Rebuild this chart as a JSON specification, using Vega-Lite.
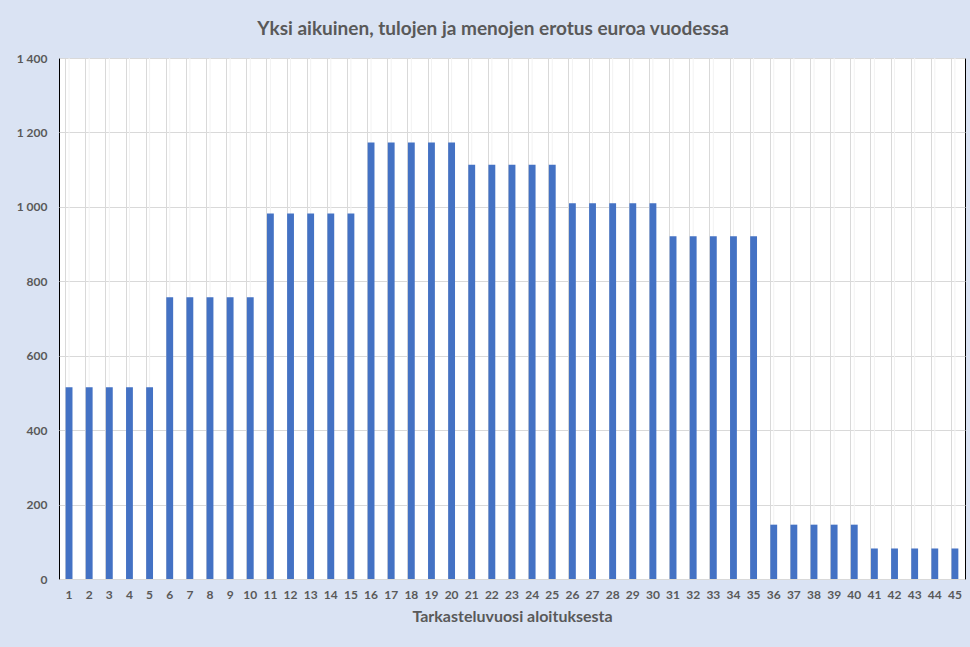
{
  "$schema": "https://vega.github.io/schema/vega-lite/v6.json",
  "autosize": {"type": "none"},
  "width": 906,
  "height": 521,
  "padding": {"left": 59, "top": 58, "right": 5, "bottom": 68},
  "background": "#dae3f3",
  "title": {
    "text": "Yksi aikuinen, tulojen ja menojen erotus euroa vuodessa",
    "font": "Lato",
    "fontSize": 19,
    "fontWeight": "bold",
    "color": "#595959",
    "anchor": "middle",
    "offset": 13,
    "dx": -19
  },
  "config": {
    "view": {"stroke": "#000000", "strokeWidth": 1, "fill": "#ffffff"},
    "axis": {"labelFont": "Lato", "titleFont": "Lato", "labelColor": "#595959", "titleColor": "#595959"}
  },
  "data": {
    "values": [
      {"vuosi": 1, "erotus": 515}, {"vuosi": 2, "erotus": 515}, {"vuosi": 3, "erotus": 515}, {"vuosi": 4, "erotus": 515}, {"vuosi": 5, "erotus": 515},
      {"vuosi": 6, "erotus": 757}, {"vuosi": 7, "erotus": 757}, {"vuosi": 8, "erotus": 757}, {"vuosi": 9, "erotus": 757}, {"vuosi": 10, "erotus": 757},
      {"vuosi": 11, "erotus": 982}, {"vuosi": 12, "erotus": 982}, {"vuosi": 13, "erotus": 982}, {"vuosi": 14, "erotus": 982}, {"vuosi": 15, "erotus": 982},
      {"vuosi": 16, "erotus": 1173}, {"vuosi": 17, "erotus": 1173}, {"vuosi": 18, "erotus": 1173}, {"vuosi": 19, "erotus": 1173}, {"vuosi": 20, "erotus": 1173},
      {"vuosi": 21, "erotus": 1113}, {"vuosi": 22, "erotus": 1113}, {"vuosi": 23, "erotus": 1113}, {"vuosi": 24, "erotus": 1113}, {"vuosi": 25, "erotus": 1113},
      {"vuosi": 26, "erotus": 1010}, {"vuosi": 27, "erotus": 1010}, {"vuosi": 28, "erotus": 1010}, {"vuosi": 29, "erotus": 1010}, {"vuosi": 30, "erotus": 1010},
      {"vuosi": 31, "erotus": 921}, {"vuosi": 32, "erotus": 921}, {"vuosi": 33, "erotus": 921}, {"vuosi": 34, "erotus": 921}, {"vuosi": 35, "erotus": 921},
      {"vuosi": 36, "erotus": 146}, {"vuosi": 37, "erotus": 146}, {"vuosi": 38, "erotus": 146}, {"vuosi": 39, "erotus": 146}, {"vuosi": 40, "erotus": 146},
      {"vuosi": 41, "erotus": 82}, {"vuosi": 42, "erotus": 82}, {"vuosi": 43, "erotus": 82}, {"vuosi": 44, "erotus": 82}, {"vuosi": 45, "erotus": 82}
    ]
  },
  "encoding": {
    "x": {
      "field": "vuosi",
      "type": "ordinal",
      "scale": {"paddingInner": 0.66, "paddingOuter": 0.33},
      "axis": {
        "title": "Tarkasteluvuosi aloituksesta",
        "labelAngle": 0,
        "labelFontSize": 12,
        "labelFontWeight": "bold",
        "labelPadding": 10,
        "titleFontSize": 16,
        "titleFontWeight": "bold",
        "titlePadding": 8,
        "ticks": false,
        "domain": false,
        "grid": true,
        "gridColor": "#d9d9d9",
        "bandPosition": 0
      }
    }
  },
  "layer": [
    {
      "mark": {"type": "rule", "color": "#f2f2f2", "strokeWidth": 1},
      "encoding": {}
    },
    {
      "mark": {"type": "bar", "color": "#4472c4"},
      "encoding": {
        "y": {
          "field": "erotus",
          "type": "quantitative",
          "scale": {"domain": [0, 1400]},
          "axis": {
            "title": null,
            "values": [0, 200, 400, 600, 800, 1000, 1200, 1400],
            "labelExpr": "replace(format(datum.value, ','), ',', ' ')",
            "labelFontSize": 12,
            "labelFontWeight": "bold",
            "labelPadding": 12,
            "ticks": false,
            "domain": false,
            "grid": true,
            "gridColor": "#d9d9d9"
          }
        }
      }
    }
  ]
}
